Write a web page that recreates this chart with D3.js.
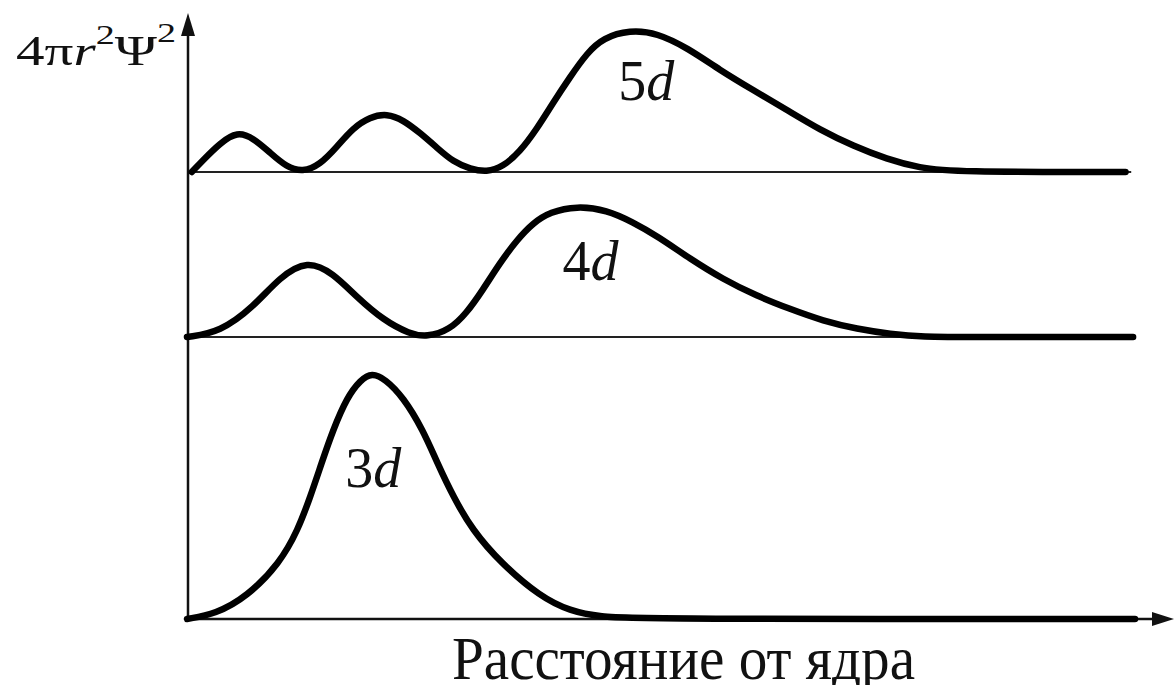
<!DOCTYPE html>
<html>
<head>
<meta charset="utf-8">
<script src="https://cdn.jsdelivr.net/npm/d3@7"></script>
<style>
  html, body { margin: 0; padding: 0; background: #fff; }
  svg { display: block; }
  text { font-family: "Liberation Serif", "DejaVu Serif", serif; fill: #111; }
</style>
</head>
<body>
<div id="chart"></div>
<script>
// radial distance (arbitrary units 0..100) and 4πr²Ψ² (arbitrary units)
const r3d = [0, 3, 6.3, 9.8, 11.7, 13, 14.2, 15.4, 16.9, 18.3, 19.5, 20.9, 22.8, 24.9, 26.4, 28.1, 30.1, 33.1, 37.3, 40.4, 43.6, 47.8, 100];
const p3d = [0, 2, 8.8, 22.4, 35.6, 48.8, 62.4, 75.6, 88.8, 95.6, 98.5, 96, 88.8, 75.6, 62.4, 48.8, 35.6, 22.4, 8.8, 3.2, 0.8, 0, 0];

const r4d = [0, 3.5, 7, 9.8, 12.7, 15.4, 17.9, 20.7, 23.5, 25.3, 27.7, 29.5, 31.2, 33, 34.8, 36.5, 38.3, 41.1, 44.3, 47, 49.6, 53.1, 56.5, 60.1, 63.6, 67.1, 70.7, 74.2, 77.6, 82.6, 99.8];
const p4d = [0, 2, 12, 24, 30.8, 25.6, 16, 6.8, 1.2, 0, 2.8, 9.6, 18.8, 29.6, 38.8, 45.6, 50, 52.4, 50.8, 46, 40.4, 31.2, 23.2, 16.4, 11.2, 6.4, 3.2, 1.2, 0, 0, 0];

const r5d = [0.5, 1.7, 3.5, 5.3, 7, 8.8, 10.5, 12.2, 14, 15.8, 17.5, 19.3, 21.1, 22.8, 24.6, 26.4, 28.1, 29.9, 31.6, 33.3, 35.1, 36.9, 38.6, 40.4, 42.2, 43.9, 46.7, 49.6, 52.8, 56.2, 59.7, 63.3, 66.8, 70.3, 73.8, 77.3, 80.8, 99];
const p5d = [0, 4.8, 11.6, 16.2, 13.6, 7.6, 2, 0, 2.8, 10, 17.6, 22, 23.4, 20.8, 15.6, 9.6, 4, 1.2, 0, 2, 8, 17.2, 27.6, 38, 47.6, 53.6, 56.8, 55.6, 49.6, 40.8, 32.8, 24.8, 16.8, 10.4, 5.2, 1.6, 0, 0];

const orbitals = ["3d", "4d", "5d"];
const labelPos = [[16.7, 52.8], [39.6, 22.8], [45.5, 28.8]];   // r, p of each label (left edge, baseline)

const xLabel = "Расстояние от ядра";

window.addEventListener("DOMContentLoaded", () => {
  const width = 1175, height = 685;
  const svg = d3.select("#chart").append("svg")
    .attr("width", width).attr("height", height);

  const x = d3.scaleLinear().domain([0, 100]).range([187, 1135]);

  // one panel per orbital, stacked; same vertical unit for all
  const baselines = { "3d": 619, "4d": 337, "5d": 172 };
  const yOf = key => d3.scaleLinear().domain([0, 100]).range([baselines[key], baselines[key] - 250]);

  const series = [
    { key: "3d", r: r3d, p: p3d },
    { key: "4d", r: r4d, p: p4d },
    { key: "5d", r: r5d, p: p5d }
  ];

  // thin zero lines of the upper panels
  ["4d", "5d"].forEach(k => {
    svg.append("line")
      .attr("x1", x(0)).attr("x2", x(99.6))
      .attr("y1", baselines[k]).attr("y2", baselines[k])
      .attr("stroke", "#222").attr("stroke-width", 2);
  });

  // axes with arrow heads
  const axisX = 188;
  svg.append("line")
    .attr("x1", axisX).attr("x2", axisX)
    .attr("y1", baselines["3d"]).attr("y2", 30)
    .attr("stroke", "#111").attr("stroke-width", 2.5);
  svg.append("path")
    .attr("d", `M${axisX - 7},36 L${axisX},13 L${axisX + 7},36 Z`)
    .attr("fill", "#111");

  svg.append("line")
    .attr("x1", axisX).attr("x2", 1160)
    .attr("y1", baselines["3d"]).attr("y2", baselines["3d"])
    .attr("stroke", "#111").attr("stroke-width", 2.5);
  svg.append("path")
    .attr("d", `M1152,${baselines["3d"] - 7} L1174,${baselines["3d"]} L1152,${baselines["3d"] + 7} Z`)
    .attr("fill", "#111");

  // curves
  series.forEach(s => {
    const y = yOf(s.key);
    const pts = s.r.map((rv, j) => ({ r: rv, p: s.p[j] }));
    const line = d3.line()
      .x(d => x(d.r))
      .y(d => y(d.p))
      .curve(d3.curveBasis);

    svg.append("path")
      .attr("d", line(pts))
      .attr("fill", "none")
      .attr("stroke", "#000")
      .attr("stroke-width", 6.5)
      .attr("stroke-linecap", "round")
      .attr("stroke-linejoin", "round");

    const [lr, lp] = labelPos[orbitals.indexOf(s.key)];
    const t = svg.append("text")
      .attr("x", x(lr)).attr("y", y(lp))
      .attr("font-size", 56);
    t.append("tspan").text(s.key[0]);
    t.append("tspan").attr("font-style", "italic").text(s.key.slice(1));
  });

  // y label: 4πr²Ψ² with raised exponents
  const yl = svg.append("text")
    .attr("x", 16).attr("y", 65)
    .attr("font-size", 42)
    .attr("textLength", 160)
    .attr("lengthAdjust", "spacingAndGlyphs");
  yl.append("tspan").text("4π");
  yl.append("tspan").attr("font-style", "italic").text("r");
  yl.append("tspan").attr("dy", -21).attr("font-size", 28).text("2");
  yl.append("tspan").attr("dy", 21).text("Ψ");
  yl.append("tspan").attr("dy", -23).attr("font-size", 28).text("2");

  svg.append("text")
    .attr("x", 452).attr("y", 679)
    .attr("font-size", 62)
    .attr("textLength", 463)
    .attr("lengthAdjust", "spacingAndGlyphs")
    .text(xLabel);
});
</script>
</body>
</html>
